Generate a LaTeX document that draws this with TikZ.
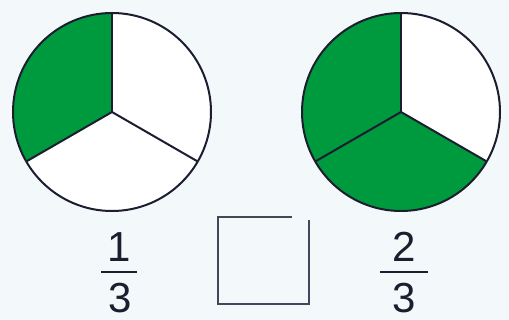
\documentclass[tikz,border=0pt]{standalone}
\usepackage{fontspec}
\setmainfont{Liberation Sans}
\definecolor{bg}{HTML}{F3F8FA}
\definecolor{pie}{HTML}{009A3E}
\definecolor{ink}{HTML}{1C1E30}
\definecolor{boxc}{HTML}{45465A}
\begin{document}
\begin{tikzpicture}[x=1pt,y=-1pt,
  edge/.style={draw=ink,line width=2pt},
  digit/.style={font=\fontsize{42}{42}\selectfont,text=ink,anchor=base,inner sep=0pt,text depth=0pt},
  bar/.style={draw=ink,line width=2pt}]
\fill[bg] (0,0) rectangle (509,320);
\useasboundingbox (0,0) rectangle (509,320);
% left circle
\coordinate (c1) at (112,112);
\fill[white] (c1) circle[radius=99];
\fill[pie] (c1) -- ++(-90:99) arc[start angle=-90,end angle=-210,radius=99] -- cycle;
\draw[edge] (c1) circle[radius=99];
\draw[edge] (c1) -- ++(-90:99);
\draw[edge] (c1) -- ++(-210:99);
\draw[edge] (c1) -- ++(-330:99);
% right circle
\coordinate (c2) at (401,112);
\fill[white] (c2) circle[radius=99];
\fill[pie] (c2) -- ++(-90:99) arc[start angle=-90,end angle=-330,radius=99] -- cycle;
\draw[edge] (c2) circle[radius=99];
\draw[edge] (c2) -- ++(-90:99);
\draw[edge] (c2) -- ++(-210:99);
\draw[edge] (c2) -- ++(-330:99);
% fraction 1/3
\node[digit] (n1) at (119,262) {1};
\node[digit] (d1) at (120,313) {3};
\draw[bar] (101,272) -- (137,272);
% fraction 2/3
\node[digit] (n2) at (404,262) {2};
\node[digit] (d2) at (404,313) {3};
\draw[bar] (380,272) -- (428,272);
% empty box
\draw[boxc,line width=1.8pt] (292,217) -- (218,217) -- (218,304) -- (309,304) -- (309,220);
\end{tikzpicture}
\end{document}
